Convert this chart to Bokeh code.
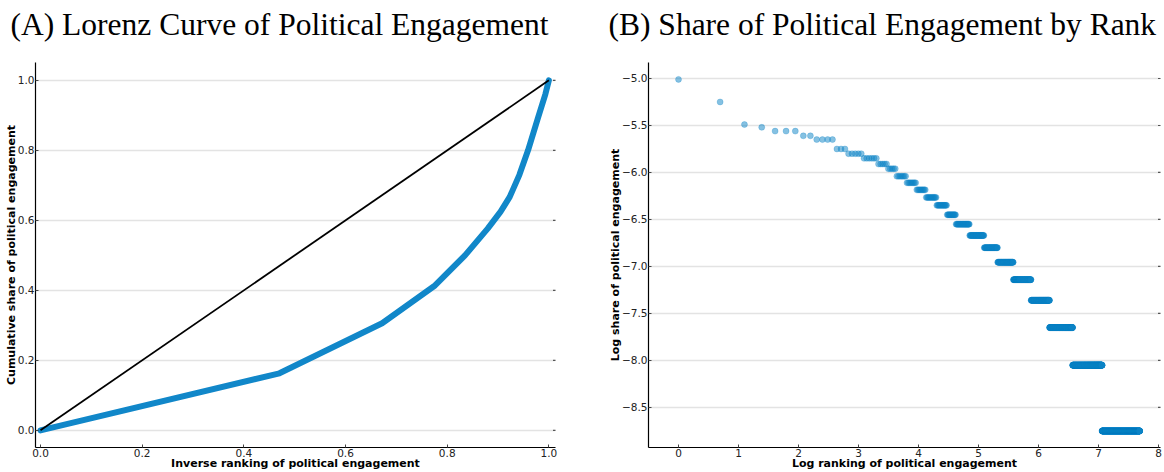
import numpy as np
from bokeh.plotting import figure
from bokeh.models import (ColumnDataSource, Range1d, FixedTicker, Title, ColorBar,
                          LinearColorMapper)
from bokeh.layouts import row
from bokeh.embed import file_html
from bokeh.resources import INLINE

# ---------------- Panel A: Lorenz curve ----------------
lorenz_x = [0.0, 0.47, 0.672, 0.776, 0.835, 0.88, 0.905, 0.923, 0.942, 0.959, 0.979, 0.993, 1.0]
lorenz_y = [0.0, 0.163, 0.306, 0.414, 0.5, 0.577, 0.625, 0.667, 0.73, 0.8, 0.895, 0.96, 1.0]
equality_x = [0.0, 1.0]
equality_y = [0.0, 1.0]
a_ticks = [0.0, 0.2, 0.4, 0.6, 0.8, 1.0]
a_tick_labels = ["0.0", "0.2", "0.4", "0.6", "0.8", "1.0"]

# ---------------- Panel B: log share by log rank ----------------
# each step: log share level, first rank and last rank holding that level
level_log_share = [-5.01, -5.25, -5.49, -5.52, -5.56, -5.61, -5.65, -5.75, -5.80, -5.85,
                   -5.91, -5.96, -6.04, -6.11, -6.185, -6.265, -6.35, -6.45, -6.55, -6.67,
                   -6.80, -6.955, -7.14, -7.36, -7.65, -8.05, -8.75]
level_first_rank = [1, 2, 3, 4, 5, 8, 10, 14, 17, 22, 28, 33, 38, 45, 53, 62, 74, 88, 102,
                    128, 163, 204, 265, 356, 484, 711, 1162]
level_last_rank = [1, 2, 3, 4, 7, 9, 13, 16, 21, 27, 32, 37, 44, 52, 61, 73, 87, 101, 127,
                   162, 203, 264, 355, 483, 710, 1161, 2170]
b_xticks = [0, 1, 2, 3, 4, 5, 6, 7, 8]
b_xtick_labels = ["0", "1", "2", "3", "4", "5", "6", "7", "8"]
b_yticks = [-5.0, -5.5, -6.0, -6.5, -7.0, -7.5, -8.0, -8.5]
b_ytick_labels = ["\u22125.0", "\u22125.5", "\u22126.0", "\u22126.5", "\u22127.0",
                  "\u22127.5", "\u22128.0", "\u22128.5"]

title_a = "(A) Lorenz Curve of Political Engagement"
title_b = "(B) Share of Political Engagement by Rank"

BLUE = "#0b84c6"
LINE_BLUE = "#1187c9"
A_X = (-0.0098, 1.013)
A_Y = (-0.049, 1.051)
B_X = (-0.5, 8.03)
B_Y = (-8.926, -4.83)


def style(p, xticks, xlabels, yticks, ylabels, xlab, ylab, x_end, title, title_offset):
    p.xgrid.visible = False
    p.ygrid.grid_line_color = "#e3e3e3"
    p.ygrid.grid_line_width = 1.5
    p.outline_line_color = None
    p.xaxis.ticker = FixedTicker(ticks=xticks)
    p.yaxis.ticker = FixedTicker(ticks=yticks)
    p.xaxis.major_label_overrides = {t: l for t, l in zip(xticks, xlabels)}
    p.yaxis.major_label_overrides = {t: l for t, l in zip(yticks, ylabels)}
    p.xaxis.axis_label = xlab
    p.yaxis.axis_label = ylab
    for ax in [p.xaxis[0], p.yaxis[0]]:
        ax.axis_line_color = "black"
        ax.axis_line_width = 1.2
        ax.major_tick_in = 3
        ax.major_tick_out = 0
        ax.major_tick_line_color = "#444444"
        ax.minor_tick_line_color = None
        ax.major_label_text_font = "DejaVu Sans"
        ax.major_label_text_font_size = "10.5px"
        ax.major_label_text_color = "#222222"
        ax.axis_label_text_font = "DejaVu Sans"
        ax.axis_label_text_font_style = "bold"
        ax.axis_label_text_font_size = "11px"
        ax.axis_label_text_color = "black"
    p.xaxis.major_label_standoff = 1
    p.yaxis.major_label_standoff = 1
    p.xaxis.axis_label_standoff = -3
    p.yaxis.axis_label_standoff = -3
    # small inward tick marks on the right edge
    p.scatter([x_end] * len(yticks), yticks, marker="dash", size=5,
              line_color="#555555", line_width=1.2)
    # invisible spacer next to the frame, so that the title sits higher
    spacer = ColorBar(color_mapper=LinearColorMapper(palette=["#ffffff"], low=0, high=1),
                      orientation="horizontal", height=9, padding=5,
                      ticker=FixedTicker(ticks=[]), scale_alpha=0.0,
                      bar_line_color=None, border_line_color=None,
                      background_fill_color=None, major_tick_line_color=None,
                      minor_tick_line_color=None)
    p.add_layout(spacer, "above")
    p.add_layout(Title(text=title, text_font="Liberation Serif", text_font_size="31.5px",
                       text_font_style="normal", text_color="black",
                       align="left", offset=title_offset, standoff=4), "above")


# ---- figure A ----
pa = figure(width=582, height=472, output_backend="svg", toolbar_location=None,
            x_range=Range1d(*A_X), y_range=Range1d(*A_Y),
            min_border_left=35, min_border_right=27, min_border_top=62, min_border_bottom=25)
style(pa, a_ticks, a_tick_labels, a_ticks, a_tick_labels,
      "Inverse ranking of political engagement", "Cumulative share of political engagement",
      A_X[1], title_a, -25)
pa.line(lorenz_x, lorenz_y, line_color=LINE_BLUE, line_width=6, line_cap="round", line_join="round")
pa.line(equality_x, equality_y, line_color="black", line_width=1.8)

# ---- figure B ----
bx, by = [], []
for lvl, r0, r1 in zip(level_log_share, level_first_rank, level_last_rank):
    ranks = np.arange(r0, r1 + 1)
    bx.extend(np.log(ranks).tolist())
    by.extend([lvl] * len(ranks))
src_b = ColumnDataSource(data=dict(x=bx, y=by))

pb = figure(width=582, height=472, output_backend="svg", toolbar_location=None,
            x_range=Range1d(*B_X), y_range=Range1d(*B_Y),
            min_border_left=66, min_border_right=4, min_border_top=62, min_border_bottom=25)
style(pb, b_xticks, b_xtick_labels, b_yticks, b_ytick_labels,
      "Log ranking of political engagement", "Log share of political engagement",
      B_X[1], title_b, -40)
pb.scatter("x", "y", source=src_b, size=6, fill_color=BLUE, fill_alpha=0.5,
           line_color=BLUE, line_alpha=0.5, line_width=0.5)

layout = row(pa, pb)
with open("out.html", "w") as f:
    f.write(file_html(layout, INLINE))
